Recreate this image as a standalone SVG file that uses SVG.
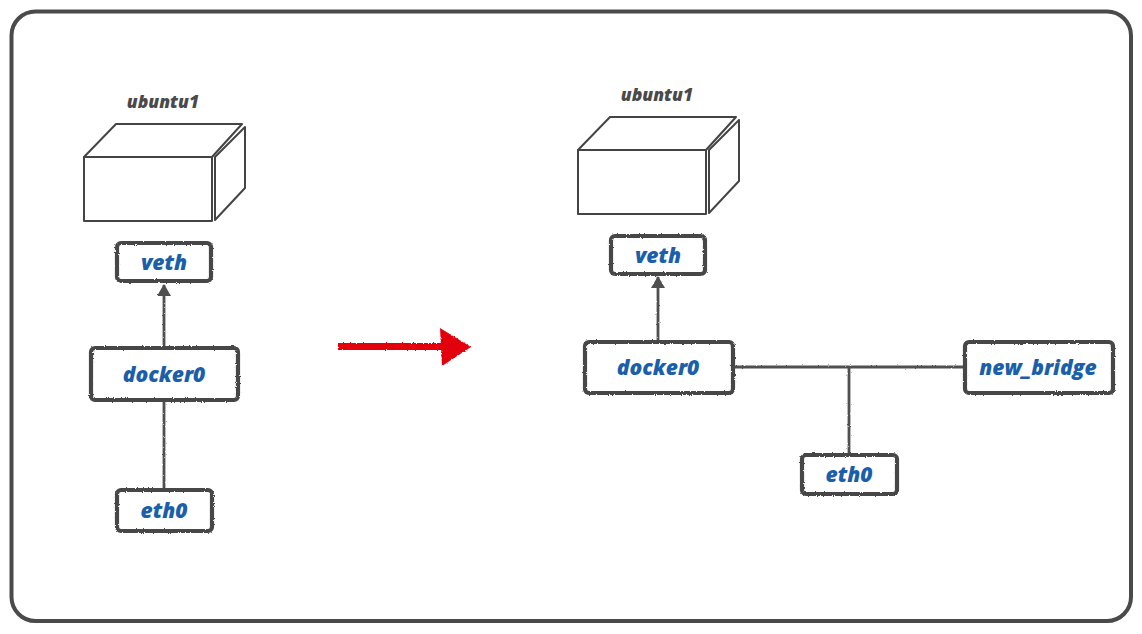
<svg xmlns="http://www.w3.org/2000/svg" width="1142" height="634" viewBox="0 0 1142 634">
  <defs>
    <style>
      .frame { fill: #ffffff; stroke: #4a4a4a; stroke-width: 4; }
      .cube { fill: #ffffff; stroke: #444444; stroke-width: 2; stroke-linejoin: round; }
      .host { font-family: "Open Sans", "Liberation Sans", sans-serif; font-weight: 800; font-style: italic; font-size: 17.5px; fill: #4a4a4a; text-anchor: middle; }
      .box { fill: #ffffff; stroke: #474747; stroke-width: 4.2; filter: url(#chalk); }
      .label { font-family: "Open Sans", "Liberation Sans", sans-serif; font-weight: 800; font-style: italic; font-size: 21px; fill: #1b5faa; text-anchor: middle; dominant-baseline: central; }
      .wire { stroke: #4f4f4f; stroke-width: 2.8; fill: none; }
    </style>
    <filter id="chalk" x="-10%" y="-10%" width="120%" height="120%">
      <feTurbulence type="fractalNoise" baseFrequency="0.9" numOctaves="2" seed="3" result="n"/>
      <feDisplacementMap in="SourceGraphic" in2="n" scale="2.4" xChannelSelector="R" yChannelSelector="G"/>
    </filter>
    <!-- user-space region so zero-width straight lines still render -->
    <filter id="chalkWire" filterUnits="userSpaceOnUse" x="0" y="0" width="1142" height="634">
      <feTurbulence type="fractalNoise" baseFrequency="0.9" numOctaves="2" seed="5" result="n"/>
      <feDisplacementMap in="SourceGraphic" in2="n" scale="2" xChannelSelector="R" yChannelSelector="G"/>
    </filter>
    <filter id="chalkRed" filterUnits="userSpaceOnUse" x="320" y="315" width="170" height="65">
      <feTurbulence type="fractalNoise" baseFrequency="1.2" numOctaves="2" seed="7" result="n"/>
      <feDisplacementMap in="SourceGraphic" in2="n" scale="2.5" xChannelSelector="R" yChannelSelector="G"/>
    </filter>
    <marker id="tip" markerWidth="16" markerHeight="14" refX="11" refY="7" orient="auto" markerUnits="userSpaceOnUse">
      <path d="M0,0 L12,7 L0,14 Z" fill="#4f4f4f"/>
    </marker>
  </defs>

  <!-- outer frame -->
  <rect class="frame" x="11.5" y="11.5" width="1119.5" height="609.5" rx="24"/>

  <!-- connectors -->
  <g id="connectors">
    <g filter="url(#chalkWire)">
      <!-- before -->
      <line class="wire" x1="164" y1="348" x2="164" y2="285" marker-end="url(#tip)"/>
      <line class="wire" x1="164" y1="401" x2="164" y2="490"/>
      <!-- after -->
      <line class="wire" x1="658" y1="341" x2="658" y2="277" marker-end="url(#tip)"/>
      <line class="wire" x1="734" y1="367" x2="964" y2="367"/>
      <line class="wire" x1="849" y1="367" x2="849" y2="455"/>
    </g>
    <!-- transition arrow -->
    <g filter="url(#chalkRed)" fill="#e3000f">
      <rect x="338" y="343" width="106" height="7"/>
      <path d="M440,328 L471,347 L442,366 Z"/>
    </g>
  </g>

  <!-- before: host -->
  <g id="host-left">
    <text class="host" x="163" y="108">ubuntu1</text>
    <path class="cube" d="M84,157 L116,124 L242,124 L212,157 Z"/>
    <path class="cube" d="M215,157 L245,127 L245,188 L215,220 Z"/>
    <rect class="cube" x="84" y="157" width="128" height="64"/>
  </g>
  <g id="veth-left">
    <rect class="box" x="117" y="243" width="94" height="38" rx="4"/>
    <text class="label" x="164" y="262">veth</text>
  </g>
  <g id="docker0-left">
    <rect class="box" x="91" y="348" width="147" height="52" rx="4"/>
    <text class="label" x="164" y="374">docker0</text>
  </g>
  <g id="eth0-left">
    <rect class="box" x="117" y="490" width="95" height="41" rx="4"/>
    <text class="label" x="164" y="510">eth0</text>
  </g>

  <!-- after: host -->
  <g id="host-right">
    <text class="host" x="657" y="101">ubuntu1</text>
    <path class="cube" d="M578,150 L610,117 L736,117 L706,150 Z"/>
    <path class="cube" d="M709,150 L739,120 L739,181 L709,213 Z"/>
    <rect class="cube" x="578" y="150" width="128" height="64"/>
  </g>
  <g id="veth-right">
    <rect class="box" x="611" y="236" width="94" height="38" rx="4"/>
    <text class="label" x="658" y="255">veth</text>
  </g>
  <g id="docker0-right">
    <rect class="box" x="585" y="342" width="148" height="51" rx="4"/>
    <text class="label" x="658" y="367">docker0</text>
  </g>
  <g id="new-bridge">
    <rect class="box" x="965" y="342" width="148" height="51" rx="4"/>
    <text class="label" x="1038" y="367">new_bridge</text>
  </g>
  <g id="eth0-right">
    <rect class="box" x="802" y="455" width="95" height="39" rx="4"/>
    <text class="label" x="849" y="474">eth0</text>
  </g>
</svg>
